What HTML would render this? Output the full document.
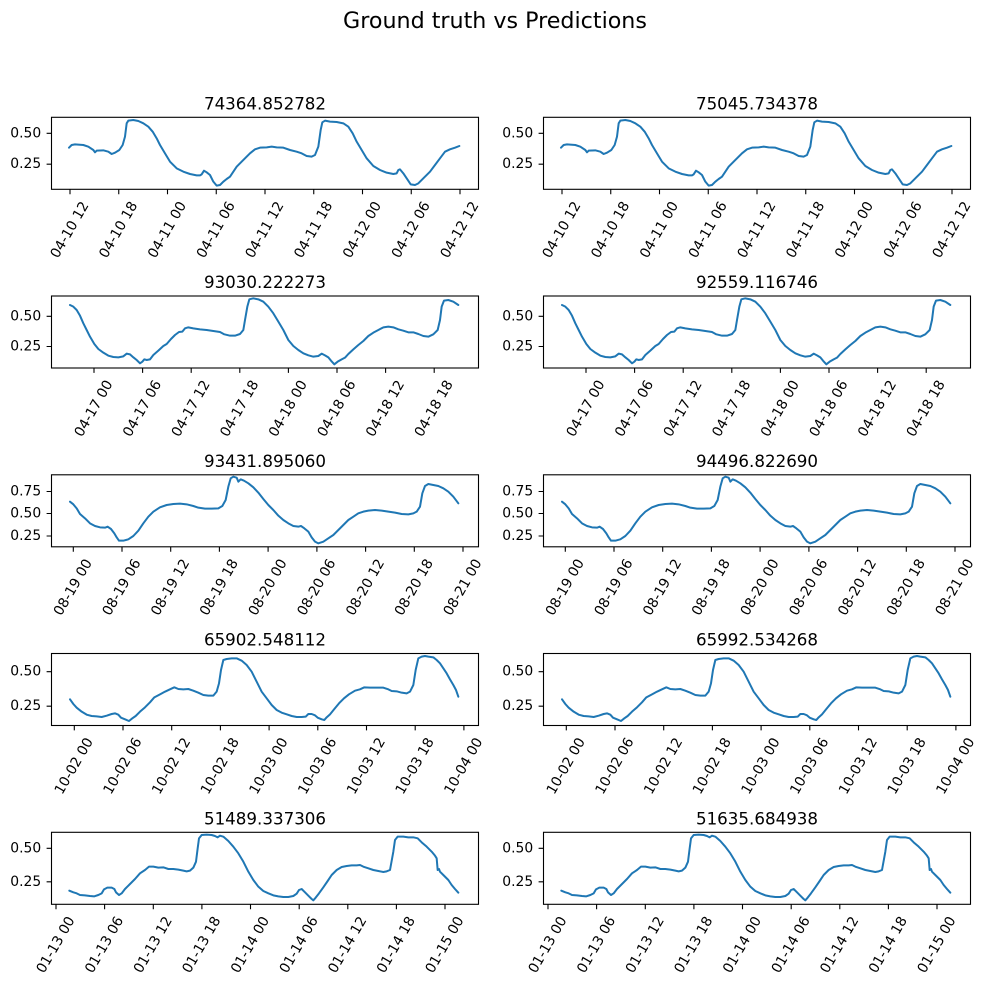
<!DOCTYPE html>
<html><head><meta charset="utf-8"><style>
body{margin:0;background:#fff}
svg{display:block}
text{font-family:"DejaVu Sans","Liberation Sans",sans-serif;fill:#000}
.tk{font-size:13.9px}
.xl{text-anchor:middle;dominant-baseline:central}
.yl{text-anchor:end;dominant-baseline:central}
.tt{font-size:16.7px;text-anchor:middle}
.sp{fill:none;stroke:#000;stroke-width:1.1}
.ln{fill:none;stroke:#1f77b4;stroke-width:2;stroke-linejoin:round;stroke-linecap:round}
.tm{stroke:#000;stroke-width:1.1}
</style></head><body>
<svg width="987" height="985" viewBox="0 0 987 985" xmlns="http://www.w3.org/2000/svg">
<rect width="987" height="985" fill="#fff"/>
<text x="495" y="28" style="font-size:22.2px;text-anchor:middle">Ground truth vs Predictions</text>

<!-- curves -->
<g id="c1">
<polyline class="ln" vector-effect="non-scaling-stroke" transform="translate(0,80) scale(0.333333)" points="207,203 215,195 225,193 250,195 265,200 280,210 285,217 290,212 310,211 325,215 335,222 345,218 358,210 368,195 375,170 380,130 385,122 400,120 415,123 430,130 445,140 458,155 470,175 480,195 495,220 510,245 530,265 550,275 570,282 590,286 600,286 605,283 612,272 620,277 630,285 640,305 650,317 660,315 670,305 680,297 690,290 700,275 710,260 720,250 735,235 750,220 765,208 780,203 800,202 815,200 830,202 850,203 870,210 890,215 905,220 920,228 935,230 945,225 955,200 962,150 967,127 975,122 990,125 1010,126 1030,130 1045,140 1058,160 1070,185 1085,210 1100,235 1120,258 1140,270 1160,278 1180,282 1190,280 1195,270 1200,268 1210,280 1220,295 1232,313 1245,315 1255,310 1270,295 1290,275 1305,255 1320,235 1335,215 1350,208 1365,203 1378,198"/>
<polyline class="ln" vector-effect="non-scaling-stroke" transform="translate(492,80) scale(0.333333)" points="207,203 215,195 225,193 250,195 265,200 280,210 285,217 290,212 310,211 325,215 335,222 345,218 358,210 368,195 375,170 380,130 385,122 400,120 415,123 430,130 445,140 458,155 470,175 480,195 495,220 510,245 530,265 550,275 570,282 590,286 600,286 605,283 612,272 620,277 630,285 640,305 650,317 660,315 670,305 680,297 690,290 700,275 710,260 720,250 735,235 750,220 765,208 780,203 800,202 815,200 830,202 850,203 870,210 890,215 905,220 920,228 935,230 945,225 955,200 962,150 967,127 975,122 990,125 1010,126 1030,130 1045,140 1058,160 1070,185 1085,210 1100,235 1120,258 1140,270 1160,278 1180,282 1190,280 1195,270 1200,268 1210,280 1220,295 1232,313 1245,315 1255,310 1270,295 1290,275 1305,255 1320,235 1335,215 1350,208 1365,203 1378,198"/>
</g>
<g>
<polyline class="ln" vector-effect="non-scaling-stroke" transform="translate(45,270) scale(0.333333)" points="75,105 85,110 95,120 105,137 115,160 125,180 135,200 148,222 160,237 175,248 190,257 205,261 220,262 235,259 245,251 255,253 265,262 275,270 285,280 292,275 298,268 305,270 315,268 325,255 340,242 355,228 365,222 378,207 390,195 402,186 412,185 420,175 430,172 445,175 465,178 485,180 505,183 525,186 538,193 555,197 570,197 585,192 595,180 600,150 607,110 613,88 625,85 640,88 655,95 670,110 685,130 700,155 715,180 730,210 745,228 760,240 775,250 790,256 805,260 820,258 830,251 840,256 850,262 858,272 868,283 878,275 890,268 900,263 910,252 925,238 940,225 955,213 970,198 985,188 1000,180 1015,172 1030,170 1045,172 1060,178 1075,182 1090,187 1105,187 1120,192 1135,198 1150,200 1165,193 1178,180 1185,150 1190,110 1197,92 1210,90 1225,95 1240,105"/>
<polyline class="ln" vector-effect="non-scaling-stroke" transform="translate(537,270) scale(0.333333)" points="75,105 85,110 95,120 105,137 115,160 125,180 135,200 148,222 160,237 175,248 190,257 205,261 220,262 235,259 245,251 255,253 265,262 275,270 285,280 292,275 298,268 305,270 315,268 325,255 340,242 355,228 365,222 378,207 390,195 402,186 412,185 420,175 430,172 445,175 465,178 485,180 505,183 525,186 538,193 555,197 570,197 585,192 595,180 600,150 607,110 613,88 625,85 640,88 655,95 670,110 685,130 700,155 715,180 730,210 745,228 760,240 775,250 790,256 805,260 820,258 830,251 840,256 850,262 858,272 868,283 878,275 890,268 900,263 910,252 925,238 940,225 955,213 970,198 985,188 1000,180 1015,172 1030,170 1045,172 1060,178 1075,182 1090,187 1105,187 1120,192 1135,198 1150,200 1165,193 1178,180 1185,150 1190,110 1197,92 1210,90 1225,95 1240,105"/>
</g>
<g>
<polyline class="ln" vector-effect="non-scaling-stroke" transform="translate(45,450) scale(0.333333)" points="75,155 85,163 95,175 105,192 120,205 135,220 150,228 165,232 180,233 188,230 198,237 208,250 215,262 222,272 235,272 250,268 265,258 280,242 295,220 310,200 325,185 345,172 365,165 385,162 405,161 425,163 445,168 460,173 480,176 500,176 520,175 532,168 542,150 550,110 557,85 565,80 575,83 580,95 587,88 597,92 610,100 625,112 640,128 655,147 670,165 685,180 700,197 715,210 730,220 745,228 760,230 768,228 778,235 790,245 800,262 810,275 820,280 835,275 850,265 865,255 880,240 895,225 910,210 925,200 940,190 955,185 970,182 990,180 1010,182 1030,185 1050,188 1070,192 1090,193 1105,190 1115,185 1125,170 1132,130 1140,108 1150,102 1165,105 1180,108 1195,115 1210,125 1225,140 1240,160"/>
<polyline class="ln" vector-effect="non-scaling-stroke" transform="translate(537,450) scale(0.333333)" points="75,155 85,163 95,175 105,192 120,205 135,220 150,228 165,232 180,233 188,230 198,237 208,250 215,262 222,272 235,272 250,268 265,258 280,242 295,220 310,200 325,185 345,172 365,165 385,162 405,161 425,163 445,168 460,173 480,176 500,176 520,175 532,168 542,150 550,110 557,85 565,80 575,83 580,95 587,88 597,92 610,100 625,112 640,128 655,147 670,165 685,180 700,197 715,210 730,220 745,228 760,230 768,228 778,235 790,245 800,262 810,275 820,280 835,275 850,265 865,255 880,240 895,225 910,210 925,200 940,190 955,185 970,182 990,180 1010,182 1030,185 1050,188 1070,192 1090,193 1105,190 1115,185 1125,170 1132,130 1140,108 1150,102 1165,105 1180,108 1195,115 1210,125 1225,140 1240,160"/>
</g>
<g>
<polyline class="ln" vector-effect="non-scaling-stroke" transform="translate(45,630) scale(0.333333)" points="75,208 85,222 95,233 110,245 125,254 140,258 155,259 170,261 185,257 200,252 210,250 220,254 228,263 240,268 252,273 262,265 272,258 285,245 300,232 315,217 328,202 345,193 360,185 375,178 388,172 400,177 415,178 430,177 445,182 460,188 475,195 490,197 505,197 515,185 522,160 528,120 535,90 545,87 560,85 575,85 590,92 605,105 620,125 635,155 650,185 665,205 680,225 695,240 710,248 725,253 740,258 755,261 770,261 782,260 790,252 800,252 810,256 818,263 830,268 838,270 845,262 855,253 868,237 882,220 897,205 912,193 930,182 945,178 958,172 975,173 995,173 1015,173 1030,178 1040,183 1055,184 1070,188 1085,190 1095,185 1105,165 1112,120 1120,85 1130,80 1140,78 1150,80 1165,82 1175,90 1185,100 1195,115 1205,130 1215,148 1225,165 1233,180 1240,200"/>
<polyline class="ln" vector-effect="non-scaling-stroke" transform="translate(537,630) scale(0.333333)" points="75,208 85,222 95,233 110,245 125,254 140,258 155,259 170,261 185,257 200,252 210,250 220,254 228,263 240,268 252,273 262,265 272,258 285,245 300,232 315,217 328,202 345,193 360,185 375,178 388,172 400,177 415,178 430,177 445,182 460,188 475,195 490,197 505,197 515,185 522,160 528,120 535,90 545,87 560,85 575,85 590,92 605,105 620,125 635,155 650,185 665,205 680,225 695,240 710,248 725,253 740,258 755,261 770,261 782,260 790,252 800,252 810,256 818,263 830,268 838,270 845,262 855,253 868,237 882,220 897,205 912,193 930,182 945,178 958,172 975,173 995,173 1015,173 1030,178 1040,183 1055,184 1070,188 1085,190 1095,185 1105,165 1112,120 1120,85 1130,80 1140,78 1150,80 1165,82 1175,90 1185,100 1195,115 1205,130 1215,148 1225,165 1233,180 1240,200"/>
</g>
<g>
<polyline class="ln" vector-effect="non-scaling-stroke" transform="translate(45,805) scale(0.333333)" points="73,257 85,262 95,265 105,270 120,271 135,273 148,274 160,270 170,265 177,253 187,248 200,248 208,252 213,262 222,270 230,265 240,252 255,237 270,222 285,205 300,195 312,185 325,185 340,188 355,187 370,192 385,192 400,194 415,197 425,199 435,197 445,188 453,170 458,130 462,100 470,90 485,89 500,90 510,93 518,97 525,92 535,95 550,108 565,125 580,145 595,170 610,200 625,225 640,245 655,258 670,265 685,271 700,274 715,276 730,276 745,273 755,266 762,255 770,252 780,262 790,272 800,282 805,286 812,278 822,265 835,247 848,228 860,210 875,195 890,186 905,183 920,181 935,181 945,180 955,185 970,190 985,195 1000,198 1015,201 1025,199 1035,195 1045,140 1050,105 1058,95 1075,95 1090,97 1105,97 1118,100 1130,112 1145,125 1160,140 1170,152 1175,160 1178,195 1182,192 1185,200 1195,210 1210,225 1220,240 1230,252 1240,263"/>
<polyline class="ln" vector-effect="non-scaling-stroke" transform="translate(537,805) scale(0.333333)" points="73,257 85,262 95,265 105,270 120,271 135,273 148,274 160,270 170,265 177,253 187,248 200,248 208,252 213,262 222,270 230,265 240,252 255,237 270,222 285,205 300,195 312,185 325,185 340,188 355,187 370,192 385,192 400,194 415,197 425,199 435,197 445,188 453,170 458,130 462,100 470,90 485,89 500,90 510,93 518,97 525,92 535,95 550,108 565,125 580,145 595,170 610,200 625,225 640,245 655,258 670,265 685,271 700,274 715,276 730,276 745,273 755,266 762,255 770,252 780,262 790,272 800,282 805,286 812,278 822,265 835,247 848,228 860,210 875,195 890,186 905,183 920,181 935,181 945,180 955,185 970,190 985,195 1000,198 1015,201 1025,199 1035,195 1045,140 1050,105 1058,95 1075,95 1090,97 1105,97 1118,100 1130,112 1145,125 1160,140 1170,152 1175,160 1178,195 1182,192 1185,200 1195,210 1210,225 1220,240 1230,252 1240,263"/>
</g>

<!-- spines -->
<rect class="sp" x="51.5" y="117.3" width="427" height="72"/>
<rect class="sp" x="543.5" y="117.3" width="427" height="72"/>
<rect class="sp" x="51.5" y="296" width="427" height="72"/>
<rect class="sp" x="543.5" y="296" width="427" height="72"/>
<rect class="sp" x="51.5" y="474.8" width="427" height="72"/>
<rect class="sp" x="543.5" y="474.8" width="427" height="72"/>
<rect class="sp" x="51.5" y="653.5" width="427" height="72"/>
<rect class="sp" x="543.5" y="653.5" width="427" height="72"/>
<rect class="sp" x="51.5" y="832.3" width="427" height="72"/>
<rect class="sp" x="543.5" y="832.3" width="427" height="72"/>

<!-- titles -->
<text class="tt" x="265" y="109.3">74364.852782</text>
<text class="tt" x="757" y="109.3">75045.734378</text>
<text class="tt" x="265" y="288">93030.222273</text>
<text class="tt" x="757" y="288">92559.116746</text>
<text class="tt" x="265" y="466.8">93431.895060</text>
<text class="tt" x="757" y="466.8">94496.822690</text>
<text class="tt" x="265" y="645.5">65902.548112</text>
<text class="tt" x="757" y="645.5">65992.534268</text>
<text class="tt" x="265" y="824.3">51489.337306</text>
<text class="tt" x="757" y="824.3">51635.684938</text>

<!-- y ticks -->
<path class="tm" d="M46.6 133.3H51.5M46.6 164.2H51.5M538.6 133.3H543.5M538.6 164.2H543.5
M46.6 316.3H51.5M46.6 346.5H51.5M538.6 316.3H543.5M538.6 346.5H543.5
M46.6 491.5H51.5M46.6 513.5H51.5M46.6 536H51.5M538.6 491.5H543.5M538.6 513.5H543.5M538.6 536H543.5
M46.6 671.7H51.5M46.6 706.2H51.5M538.6 671.7H543.5M538.6 706.2H543.5
M46.6 848.3H51.5M46.6 881.8H51.5M538.6 848.3H543.5M538.6 881.8H543.5"/>
<g class="tk yl">
<text x="41.2" y="133.3">0.50</text><text x="41.2" y="164.2">0.25</text>
<text x="533.2" y="133.3">0.50</text><text x="533.2" y="164.2">0.25</text>
<text x="41.2" y="316.3">0.50</text><text x="41.2" y="346.5">0.25</text>
<text x="533.2" y="316.3">0.50</text><text x="533.2" y="346.5">0.25</text>
<text x="41.2" y="491.5">0.75</text><text x="41.2" y="513.5">0.50</text><text x="41.2" y="536">0.25</text>
<text x="533.2" y="491.5">0.75</text><text x="533.2" y="513.5">0.50</text><text x="533.2" y="536">0.25</text>
<text x="41.2" y="671.7">0.50</text><text x="41.2" y="706.2">0.25</text>
<text x="533.2" y="671.7">0.50</text><text x="533.2" y="706.2">0.25</text>
<text x="41.2" y="848.3">0.50</text><text x="41.2" y="881.8">0.25</text>
<text x="533.2" y="848.3">0.50</text><text x="533.2" y="881.8">0.25</text>
</g>

<!-- x ticks -->
<path class="tm" d="M70 189.3v4.9M118.75 189.3v4.9M167.5 189.3v4.9M216.25 189.3v4.9M265 189.3v4.9M313.75 189.3v4.9M362.5 189.3v4.9M411.25 189.3v4.9M460 189.3v4.9
M562 189.3v4.9M610.75 189.3v4.9M659.5 189.3v4.9M708.25 189.3v4.9M757 189.3v4.9M805.75 189.3v4.9M854.5 189.3v4.9M903.25 189.3v4.9M952 189.3v4.9
M94 368v4.9M142.6 368v4.9M191.2 368v4.9M239.8 368v4.9M288.4 368v4.9M337 368v4.9M385.6 368v4.9M434.2 368v4.9
M586 368v4.9M634.6 368v4.9M683.2 368v4.9M731.8 368v4.9M780.4 368v4.9M829 368v4.9M877.6 368v4.9M926.2 368v4.9
M73.3 546.8v4.9M122 546.8v4.9M170.7 546.8v4.9M219.4 546.8v4.9M268.1 546.8v4.9M316.9 546.8v4.9M365.6 546.8v4.9M414.3 546.8v4.9M463 546.8v4.9
M565.3 546.8v4.9M614 546.8v4.9M662.7 546.8v4.9M711.4 546.8v4.9M760.1 546.8v4.9M808.9 546.8v4.9M857.6 546.8v4.9M906.3 546.8v4.9M955 546.8v4.9
M74.3 725.5v4.9M123 725.5v4.9M171.7 725.5v4.9M220.4 725.5v4.9M269.1 725.5v4.9M317.8 725.5v4.9M366.5 725.5v4.9M415.2 725.5v4.9M463.9 725.5v4.9
M566.3 725.5v4.9M615 725.5v4.9M663.7 725.5v4.9M712.4 725.5v4.9M761.1 725.5v4.9M809.8 725.5v4.9M858.5 725.5v4.9M907.2 725.5v4.9M955.9 725.5v4.9
M56 904.3v4.9M104.6 904.3v4.9M153.3 904.3v4.9M201.9 904.3v4.9M250.5 904.3v4.9M299.2 904.3v4.9M347.8 904.3v4.9M396.4 904.3v4.9M445 904.3v4.9
M548 904.3v4.9M596.6 904.3v4.9M645.3 904.3v4.9M693.9 904.3v4.9M742.5 904.3v4.9M791.2 904.3v4.9M839.8 904.3v4.9M888.4 904.3v4.9M937 904.3v4.9"/>

<g class="tk xl">
<!-- row 1 -->
<text x="70" y="230" transform="rotate(-60 70 230)">04-10 12</text>
<text x="118.75" y="230" transform="rotate(-60 118.75 230)">04-10 18</text>
<text x="167.5" y="230" transform="rotate(-60 167.5 230)">04-11 00</text>
<text x="216.25" y="230" transform="rotate(-60 216.25 230)">04-11 06</text>
<text x="265" y="230" transform="rotate(-60 265 230)">04-11 12</text>
<text x="313.75" y="230" transform="rotate(-60 313.75 230)">04-11 18</text>
<text x="362.5" y="230" transform="rotate(-60 362.5 230)">04-12 00</text>
<text x="411.25" y="230" transform="rotate(-60 411.25 230)">04-12 06</text>
<text x="460" y="230" transform="rotate(-60 460 230)">04-12 12</text>
<text x="562" y="230" transform="rotate(-60 562 230)">04-10 12</text>
<text x="610.75" y="230" transform="rotate(-60 610.75 230)">04-10 18</text>
<text x="659.5" y="230" transform="rotate(-60 659.5 230)">04-11 00</text>
<text x="708.25" y="230" transform="rotate(-60 708.25 230)">04-11 06</text>
<text x="757" y="230" transform="rotate(-60 757 230)">04-11 12</text>
<text x="805.75" y="230" transform="rotate(-60 805.75 230)">04-11 18</text>
<text x="854.5" y="230" transform="rotate(-60 854.5 230)">04-12 00</text>
<text x="903.25" y="230" transform="rotate(-60 903.25 230)">04-12 06</text>
<text x="952" y="230" transform="rotate(-60 952 230)">04-12 12</text>
<!-- row 2 -->
<text x="94" y="408.7" transform="rotate(-60 94 408.7)">04-17 00</text>
<text x="142.6" y="408.7" transform="rotate(-60 142.6 408.7)">04-17 06</text>
<text x="191.2" y="408.7" transform="rotate(-60 191.2 408.7)">04-17 12</text>
<text x="239.8" y="408.7" transform="rotate(-60 239.8 408.7)">04-17 18</text>
<text x="288.4" y="408.7" transform="rotate(-60 288.4 408.7)">04-18 00</text>
<text x="337" y="408.7" transform="rotate(-60 337 408.7)">04-18 06</text>
<text x="385.6" y="408.7" transform="rotate(-60 385.6 408.7)">04-18 12</text>
<text x="434.2" y="408.7" transform="rotate(-60 434.2 408.7)">04-18 18</text>
<text x="586" y="408.7" transform="rotate(-60 586 408.7)">04-17 00</text>
<text x="634.6" y="408.7" transform="rotate(-60 634.6 408.7)">04-17 06</text>
<text x="683.2" y="408.7" transform="rotate(-60 683.2 408.7)">04-17 12</text>
<text x="731.8" y="408.7" transform="rotate(-60 731.8 408.7)">04-17 18</text>
<text x="780.4" y="408.7" transform="rotate(-60 780.4 408.7)">04-18 00</text>
<text x="829" y="408.7" transform="rotate(-60 829 408.7)">04-18 06</text>
<text x="877.6" y="408.7" transform="rotate(-60 877.6 408.7)">04-18 12</text>
<text x="926.2" y="408.7" transform="rotate(-60 926.2 408.7)">04-18 18</text>
<!-- row 3 -->
<text x="73.3" y="587.5" transform="rotate(-60 73.3 587.5)">08-19 00</text>
<text x="122" y="587.5" transform="rotate(-60 122 587.5)">08-19 06</text>
<text x="170.7" y="587.5" transform="rotate(-60 170.7 587.5)">08-19 12</text>
<text x="219.4" y="587.5" transform="rotate(-60 219.4 587.5)">08-19 18</text>
<text x="268.1" y="587.5" transform="rotate(-60 268.1 587.5)">08-20 00</text>
<text x="316.9" y="587.5" transform="rotate(-60 316.9 587.5)">08-20 06</text>
<text x="365.6" y="587.5" transform="rotate(-60 365.6 587.5)">08-20 12</text>
<text x="414.3" y="587.5" transform="rotate(-60 414.3 587.5)">08-20 18</text>
<text x="463" y="587.5" transform="rotate(-60 463 587.5)">08-21 00</text>
<text x="565.3" y="587.5" transform="rotate(-60 565.3 587.5)">08-19 00</text>
<text x="614" y="587.5" transform="rotate(-60 614 587.5)">08-19 06</text>
<text x="662.7" y="587.5" transform="rotate(-60 662.7 587.5)">08-19 12</text>
<text x="711.4" y="587.5" transform="rotate(-60 711.4 587.5)">08-19 18</text>
<text x="760.1" y="587.5" transform="rotate(-60 760.1 587.5)">08-20 00</text>
<text x="808.9" y="587.5" transform="rotate(-60 808.9 587.5)">08-20 06</text>
<text x="857.6" y="587.5" transform="rotate(-60 857.6 587.5)">08-20 12</text>
<text x="906.3" y="587.5" transform="rotate(-60 906.3 587.5)">08-20 18</text>
<text x="955" y="587.5" transform="rotate(-60 955 587.5)">08-21 00</text>
<!-- row 4 -->
<text x="74.3" y="766.2" transform="rotate(-60 74.3 766.2)">10-02 00</text>
<text x="123" y="766.2" transform="rotate(-60 123 766.2)">10-02 06</text>
<text x="171.7" y="766.2" transform="rotate(-60 171.7 766.2)">10-02 12</text>
<text x="220.4" y="766.2" transform="rotate(-60 220.4 766.2)">10-02 18</text>
<text x="269.1" y="766.2" transform="rotate(-60 269.1 766.2)">10-03 00</text>
<text x="317.8" y="766.2" transform="rotate(-60 317.8 766.2)">10-03 06</text>
<text x="366.5" y="766.2" transform="rotate(-60 366.5 766.2)">10-03 12</text>
<text x="415.2" y="766.2" transform="rotate(-60 415.2 766.2)">10-03 18</text>
<text x="463.9" y="766.2" transform="rotate(-60 463.9 766.2)">10-04 00</text>
<text x="566.3" y="766.2" transform="rotate(-60 566.3 766.2)">10-02 00</text>
<text x="615" y="766.2" transform="rotate(-60 615 766.2)">10-02 06</text>
<text x="663.7" y="766.2" transform="rotate(-60 663.7 766.2)">10-02 12</text>
<text x="712.4" y="766.2" transform="rotate(-60 712.4 766.2)">10-02 18</text>
<text x="761.1" y="766.2" transform="rotate(-60 761.1 766.2)">10-03 00</text>
<text x="809.8" y="766.2" transform="rotate(-60 809.8 766.2)">10-03 06</text>
<text x="858.5" y="766.2" transform="rotate(-60 858.5 766.2)">10-03 12</text>
<text x="907.2" y="766.2" transform="rotate(-60 907.2 766.2)">10-03 18</text>
<text x="955.9" y="766.2" transform="rotate(-60 955.9 766.2)">10-04 00</text>
<!-- row 5 -->
<text x="56" y="945" transform="rotate(-60 56 945)">01-13 00</text>
<text x="104.6" y="945" transform="rotate(-60 104.6 945)">01-13 06</text>
<text x="153.3" y="945" transform="rotate(-60 153.3 945)">01-13 12</text>
<text x="201.9" y="945" transform="rotate(-60 201.9 945)">01-13 18</text>
<text x="250.5" y="945" transform="rotate(-60 250.5 945)">01-14 00</text>
<text x="299.2" y="945" transform="rotate(-60 299.2 945)">01-14 06</text>
<text x="347.8" y="945" transform="rotate(-60 347.8 945)">01-14 12</text>
<text x="396.4" y="945" transform="rotate(-60 396.4 945)">01-14 18</text>
<text x="445" y="945" transform="rotate(-60 445 945)">01-15 00</text>
<text x="548" y="945" transform="rotate(-60 548 945)">01-13 00</text>
<text x="596.6" y="945" transform="rotate(-60 596.6 945)">01-13 06</text>
<text x="645.3" y="945" transform="rotate(-60 645.3 945)">01-13 12</text>
<text x="693.9" y="945" transform="rotate(-60 693.9 945)">01-13 18</text>
<text x="742.5" y="945" transform="rotate(-60 742.5 945)">01-14 00</text>
<text x="791.2" y="945" transform="rotate(-60 791.2 945)">01-14 06</text>
<text x="839.8" y="945" transform="rotate(-60 839.8 945)">01-14 12</text>
<text x="888.4" y="945" transform="rotate(-60 888.4 945)">01-14 18</text>
<text x="937" y="945" transform="rotate(-60 937 945)">01-15 00</text>
</g>
</svg>
</body></html>
